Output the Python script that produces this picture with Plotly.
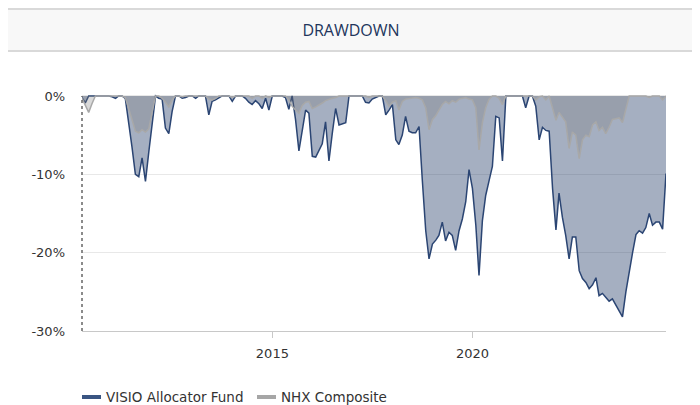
import pandas as pd
import plotly.graph_objects as go

# ---- data (monthly drawdowns, %, month-end) ----
start_month = "2010-03-01"
n_months = 176
dates = [(pd.Timestamp(start_month) + pd.DateOffset(months=k) + pd.offsets.MonthEnd(0)).strftime("%Y-%m-%d")
         for k in range(n_months)]

fund_name = "VISIO Allocator Fund"
bench_name = "NHX Composite"

fund_dd = [
    -0.2, -0.9, 0, 0, 0, 0, 0, 0, 0, -0.1,
    -0.3, 0, 0, -0.3, -3.2, -6.5, -10.0, -10.3, -7.9, -10.9,
    -7.2, -3.6, 0, -0.3, -0.4, -4.1, -4.8, -2.0, 0, 0,
    -0.3, -0.2, 0, 0, -0.3, 0, 0, 0, -2.4, -0.7,
    -0.5, -0.2, 0, 0, 0, -0.7, 0, 0, 0, -0.3,
    -0.8, -1.1, -0.6, -1.0, -1.6, -0.3, -1.8, 0, 0, 0,
    0, -0.2, -1.7, 0, -3.0, -7.0, -4.3, -1.8, -2.2, -7.7,
    -7.8, -7.0, -6.1, -3.3, -8.3, -4.8, -1.6, -3.7, -3.6, -3.4,
    0, 0, 0, 0, 0, -0.8, -0.9, -0.4, -0.2, 0,
    0, -2.4, -1.8, -1.1, -5.6, -6.2, -5.0, -2.6, -4.5, -4.7,
    -4.7, -3.9, -10.8, -17.2, -20.8, -18.9, -18.4, -17.8, -16.1, -18.5,
    -17.4, -17.8, -19.7, -17.2, -15.7, -13.5, -9.4, -11.8, -16.5, -22.9,
    -15.9, -12.7, -10.8, -9.0, -2.6, -2.8, -8.3, 0, 0, 0,
    0, 0, 0, -1.5, 0, 0, -1.3, -5.6, -4.0, -4.4,
    -4.5, -11.8, -17.1, -12.4, -15.5, -17.8, -20.8, -18.0, -18.0, -22.3,
    -23.3, -23.8, -24.6, -24.1, -23.2, -25.5, -25.2, -25.7, -26.2, -25.9,
    -26.7, -27.6, -28.2, -25.0, -22.3, -20.0, -17.7, -17.2, -17.5, -16.8,
    -15.0, -16.5, -16.1, -16.1, -17.0, -9.9,
]

bench_dd = [
    -0.3, -1.2, -2.1, -1.0, 0, 0, 0, 0, 0, 0,
    0, 0, 0, -0.2, -1.5, -3.0, -4.5, -4.7, -4.3, -4.6,
    -4.2, -2.0, 0, 0, -0.3, -0.8, -1.4, -0.5, 0, 0,
    -0.1, 0, 0, 0, 0, 0, 0, 0, -0.4, -0.5,
    -0.3, 0, 0, 0, 0, -0.2, 0, 0, 0, 0,
    0, -0.3, 0, 0, -0.3, 0, -0.2, 0, 0, 0,
    0, 0, -0.5, -1.3, -1.8, -2.2, -1.2, -0.8, -0.7, -1.6,
    -1.4, -1.2, -0.9, -0.6, -0.4, -0.3, -0.2, 0, 0, 0,
    0, 0, 0, 0, 0, 0, -0.2, 0, 0, 0,
    0, -0.6, -1.3, -0.8, -0.6, -1.8, -0.7, -0.4, -0.3, -0.3,
    -0.2, -0.3, -0.5, -1.5, -4.3, -3.0, -2.5, -1.8, -1.1, -0.7,
    -1.0, -0.6, -0.8, -0.4, -0.3, -0.2, -0.4, -0.5, -1.5, -6.9,
    -3.4, -1.5, -0.4, 0, 0, -0.3, -1.1, 0, 0, 0,
    0, 0, 0, 0, 0, 0, -0.5, -0.1, 0, -0.5,
    0, -1.5, -3.1, -2.1, -2.7, -3.3, -6.7, -4.6, -5.0, -8.0,
    -5.6, -5.0, -5.2, -3.7, -3.3, -4.4, -4.0, -4.8, -4.0, -3.0,
    -2.9, -2.8, -3.4, -1.5, 0, 0, 0, 0, 0, 0,
    -0.2, 0, 0, 0, -0.5, 0,
]

y_ticks = [0, -10, -20, -30]
y_tick_labels = ["0%", "-10%", "-20%", "-30%"]
x_ticks = ["2015-01-01", "2020-01-01"]
x_tick_labels = ["2015", "2020"]
title_text = "DRAWDOWN"

# ---- styles ----
FUND_LINE = "#2b4573"
FUND_FILL = "rgba(31,56,100,0.40)"
FUND_SWATCH = "#3a5582"
BENCH_LINE = "#a8a8a8"
BENCH_FILL = "rgba(120,120,120,0.28)"
BENCH_SWATCH = "#a6a6a6"
FONT = "DejaVu Sans"

fig = go.Figure()
fig.add_trace(go.Scatter(x=dates, y=fund_dd, mode="lines", fill="tozeroy",
                         line=dict(color=FUND_LINE, width=1.5), fillcolor=FUND_FILL,
                         name=fund_name, showlegend=False, hoverinfo="skip"))
fig.add_trace(go.Scatter(x=dates, y=bench_dd, mode="lines", fill="tozeroy",
                         line=dict(color=BENCH_LINE, width=1.5), fillcolor=BENCH_FILL,
                         name=bench_name, showlegend=False, hoverinfo="skip"))

W, H = 700, 405
L, R, T, B = 74, 42, 86, 82
pw, ph = W - L - R, H - T - B


def px_x(px):
    return (px - L) / pw


def px_y(py):
    return (H - B - py) / ph


shapes = [
    # header band
    dict(type="rect", xref="paper", yref="paper", x0=px_x(0), x1=px_x(700), y0=px_y(43), y1=px_y(1),
         fillcolor="#f8f8f8", line=dict(width=0), layer="below"),
    dict(type="line", xref="paper", yref="paper", x0=px_x(0), x1=px_x(700), y0=px_y(1), y1=px_y(1),
         line=dict(color="#d9d9d9", width=2)),
    dict(type="line", xref="paper", yref="paper", x0=px_x(0), x1=px_x(700), y0=px_y(43), y1=px_y(43),
         line=dict(color="#d9d9d9", width=2)),
    # dotted left axis
    dict(type="line", xref="paper", yref="y", x0=0, x1=0, y0=-30, y1=0,
         line=dict(color="#666666", width=1.5, dash="dot")),
    # legend swatches
    dict(type="rect", xref="paper", yref="paper", x0=px_x(74), x1=px_x(93), y0=px_y(391), y1=px_y(387),
         fillcolor=FUND_SWATCH, line=dict(width=0)),
    dict(type="rect", xref="paper", yref="paper", x0=px_x(249), x1=px_x(268), y0=px_y(391), y1=px_y(387),
         fillcolor=BENCH_SWATCH, line=dict(width=0)),
]

annotations = [
    dict(text=fund_name, xref="paper", yref="paper", x=px_x(96), y=px_y(389), xanchor="left",
         yanchor="middle", showarrow=False, font=dict(family=FONT, size=13.5, color="#333333")),
    dict(text=bench_name, xref="paper", yref="paper", x=px_x(271), y=px_y(389), xanchor="left",
         yanchor="middle", showarrow=False, font=dict(family=FONT, size=13.5, color="#333333")),
]

fig.update_layout(
    width=W, height=H,
    margin=dict(l=L, r=R, t=T, b=B),
    paper_bgcolor="white", plot_bgcolor="white",
    font=dict(family=FONT, size=13, color="#333333"),
    title=dict(text=title_text, x=343 / W, xref="container", y=1 - 22 / H, yref="container",
               xanchor="center", yanchor="middle",
               font=dict(family="Open Sans", size=16, color="#22355c")),
    showlegend=False,
    shapes=shapes,
    annotations=annotations,
    xaxis=dict(type="date", range=[dates[0], dates[-1]], tickvals=x_ticks, ticktext=x_tick_labels,
               ticks="outside", ticklen=6, tickcolor="#c8c8c8", showline=True, linecolor="#c8c8c8",
               linewidth=1, showgrid=False, zeroline=False, ticklabelstandoff=4,
               tickfont=dict(size=13, color="#333333")),
    yaxis=dict(range=[-30, 0.25], tickvals=y_ticks, ticktext=y_tick_labels, showgrid=True,
               gridcolor="#e8e8e8", gridwidth=1, zeroline=False, showline=False, ticks="",
               ticklabelstandoff=16, tickfont=dict(size=13, color="#333333")),
)

fig.write_html("out.html")
